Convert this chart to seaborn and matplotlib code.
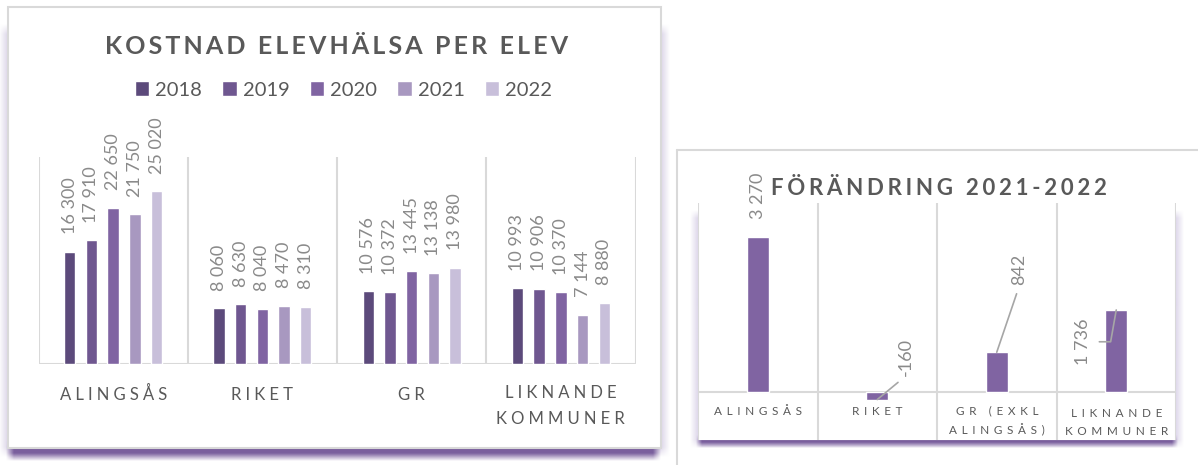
import numpy as np
import pandas as pd
import matplotlib
matplotlib.use("Agg")
import matplotlib.pyplot as plt
import matplotlib.transforms as mtransforms
from matplotlib.patches import Rectangle
import seaborn as sns

# ---- data -------------------------------------------------------------
regions = ["ALINGSÅS", "RIKET", "GR", "LIKNANDE\nKOMMUNER"]
years = ["2018", "2019", "2020", "2021", "2022"]
cost_2018 = [16300, 8060, 10576, 10993]
cost_2019 = [17910, 8630, 10372, 10906]
cost_2020 = [22650, 8040, 13445, 10370]
cost_2021 = [21750, 8470, 13138, 7144]
cost_2022 = [25020, 8310, 13980, 8880]

change_regions = ["ALINGSÅS", "RIKET", "GR (EXKL\nALINGSÅS)", "LIKNANDE\nKOMMUNER"]
change_2021_2022 = [3270, -160, 842, 1736]

year_colors = ["#5c4a7b", "#6f5790", "#8064a2", "#a898c0", "#c8bfda"]
change_color = "#8064a2"

# ---- style ------------------------------------------------------------
sns.set_style("white")
plt.rcParams["font.family"] = ["Lato", "DejaVu Sans"]
TITLE_C = "#595959"
LABEL_C = "#595959"
VALUE_C = "#8a8a8a"
GRID_C = "#d9d9d9"

W, H = 1198, 465
fig = plt.figure(figsize=(W / 100, H / 100), dpi=100)
fig.patch.set_facecolor("white")
renderer = fig.canvas.get_renderer()

# candidate letter-spacing strings, roughly from narrow to wide
SEPS = ["", "\u200a", "\u2009", "\u2009\u200a", "\u2006", "\u2006\u200a",
        "\u2005", "\u2005\u200a", "\u2004", "\u2004\u200a", "\u2004\u2009",
        "\u2004\u2006", "\u2004\u2005"]


def fx(px):
    return px / W


def fy(py):
    return 1 - py / H


def spaced(text, sep):
    return "\n".join(sep.join(line) for line in text.split("\n"))


def pick_sep(artist, text, target_px):
    """Choose the letter-spacing string that brings a text closest to a width."""
    best = None
    for sep in SEPS:
        artist.set_text(spaced(text, sep))
        w = artist.get_window_extent(renderer).width
        if best is None or abs(w - target_px) < best[0]:
            best = (abs(w - target_px), sep)
    artist.set_text(spaced(text, best[1]))
    return best[1]


def sv(v):
    return f"{v:,.0f}".replace(",", " ")


# ---- background cards and soft shadows ------------------------------
bg = fig.add_axes([0, 0, 1, 1], zorder=-5)
bg.axis("off")


def soft_rect(x0, x1, y0, y1, fade, color, peak):
    rgb = matplotlib.colors.to_rgb(color)
    xs = np.arange(x0 - fade, x1 + fade) + 0.5
    ys = np.arange(y0 - fade, y1 + fade) + 0.5
    ax_ = np.clip(np.minimum(xs - (x0 - fade), (x1 + fade) - xs) / (2 * fade), 0, 1)
    ay_ = np.clip(np.minimum(ys - (y0 - fade), (y1 + fade) - ys) / (2 * fade), 0, 1)
    a = peak * np.outer(ay_, ax_)
    img = np.zeros((len(ys), len(xs), 4))
    img[..., :3] = rgb
    img[..., 3] = a
    bg.imshow(img, extent=(xs[0] - 0.5, xs[-1] + 0.5, ys[-1] + 0.5, ys[0] - 0.5),
              interpolation="bilinear", aspect="auto", zorder=1)


# left card
soft_rect(4, 665, 30, 452, 5, "#b9acd2", 0.55)
soft_rect(10, 657, 445, 457, 4, "#7a5f9d", 1.0)
bg.add_patch(Rectangle((8, 7), 653, 441, facecolor="white", edgecolor=GRID_C,
                       lw=1.5, zorder=2))

# right card
bg.plot([677, 677], [150, 465], color=GRID_C, lw=1.5, zorder=2)
bg.plot([677, 1198], [150, 150], color=GRID_C, lw=1.5, zorder=2)
soft_rect(694, 1180, 215, 444, 4, "#c3b7da", 0.55)
soft_rect(699, 1175, 438, 445, 3, "#7a5f9d", 1.0)
bg.add_patch(Rectangle((698, 203), 478, 237, facecolor="white", edgecolor="none", zorder=2))
bg.set_xlim(0, W)
bg.set_ylim(H, 0)

# ---- left chart: cost per pupil --------------------------------------
L_X0, L_X1, L_TOP, L_BASE = 38.5, 635.5, 157, 364
axL = fig.add_axes([fx(L_X0), fy(L_BASE), fx(L_X1 - L_X0), (L_BASE - L_TOP) / H])
axL.patch.set_alpha(0)

df = pd.DataFrame({
    "region": regions * len(years),
    "year": np.repeat(years, len(regions)),
    "cost": cost_2018 + cost_2019 + cost_2020 + cost_2021 + cost_2022,
})
sns.barplot(data=df, x="region", y="cost", hue="year", hue_order=years,
            palette=year_colors, saturation=1, width=0.728, gap=0.48,
            errorbar=None, ax=axL, legend=True)
axL.set_ylim(0, 30000)
axL.set_xlim(-0.5, len(regions) - 0.5)
for cont, vals in zip(axL.containers,
                      [cost_2018, cost_2019, cost_2020, cost_2021, cost_2022]):
    axL.bar_label(cont, labels=[sv(v) for v in vals], rotation=90, padding=12.5,
                  color=VALUE_C, fontsize=13)

for b in np.arange(-0.5, len(regions), 1.0):
    axL.axvline(b, color=GRID_C, lw=1.5, zorder=0)
axL.axhline(0, color=GRID_C, lw=1.5, zorder=0)
for s in axL.spines.values():
    s.set_visible(False)
axL.set_xticks([])
axL.set_yticks([])
axL.set_xlabel("")
axL.set_ylabel("")

handles, labels = axL.get_legend_handles_labels()
axL.get_legend().remove()
fig.legend(handles, labels, loc="center", bbox_to_anchor=(fx(343.5), fy(90)),
           ncol=5, frameon=False, fontsize=14.5, handlelength=0.72, handleheight=0.72,
           handletextpad=0.3, columnspacing=1.0, labelcolor=TITLE_C,
           borderpad=0, borderaxespad=0)

# category labels (baseline of the last line is given)
tL = mtransforms.blended_transform_factory(axL.transData, fig.transFigure)
L_PITCH = 24
probe = fig.text(0, 0, "", fontsize=12)
sepL = pick_sep(probe, regions[0], 108)
probe.remove()
for i, r in enumerate(regions):
    n = r.count("\n")
    axL.text(i, fy(400 + n * L_PITCH), spaced(r, sepL), transform=tL, ha="center",
             va="baseline", fontsize=12, color=LABEL_C, linespacing=1.75,
             multialignment="center")

tl = fig.text(fx(336.5), fy(54.5), "", ha="center", va="baseline", fontsize=18,
              fontweight="bold", color=TITLE_C)
pick_sep(tl, "KOSTNAD ELEVHÄLSA PER ELEV", 463)

# ---- right chart: change 2021-2022 -----------------------------------
R_X0, R_X1, R_TOP, R_BASE, R_BOT = 698, 1176, 203, 392, 440
axR = fig.add_axes([fx(R_X0), fy(R_BOT), fx(R_X1 - R_X0), (R_BOT - R_TOP) / H])
axR.patch.set_alpha(0)
sns.barplot(x=change_regions, y=change_2021_2022, color=change_color, saturation=1,
            width=0.18, errorbar=None, ax=axR)
r_max = 4000
axR.set_ylim(-r_max * (R_BOT - R_BASE) / (R_BASE - R_TOP), r_max)
axR.set_xlim(-0.5, len(change_regions) - 0.5)
for b in np.arange(-0.5, len(change_regions), 1.0):
    axR.axvline(b, color=GRID_C, lw=1.5, zorder=0)
axR.axhline(0, color=GRID_C, lw=1.5, zorder=0)
for s in axR.spines.values():
    s.set_visible(False)
axR.set_xticks([])
axR.set_yticks([])

# label placement (pixel offsets from each bar end) and leader lines
label_offsets = [(0, 41.5), (29, 43), (22.75, 82.6), (-33.75, -31.8)]
leaders = [
    None,
    dict(relpos=(0.5, 0.0), connectionstyle="arc3"),
    dict(relpos=(0.5, 0.0), connectionstyle="arc3"),
    dict(relpos=(1.0, 0.5), connectionstyle="angle,angleA=0,angleB=80,rad=0"),
]
for i, (v, off, ld) in enumerate(zip(change_2021_2022, label_offsets, leaders)):
    props = None
    if ld is not None:
        props = dict(arrowstyle="-", color="#a6a6a6", lw=1.2, shrinkA=4, shrinkB=0, **ld)
    axR.annotate(sv(v), xy=(i, v), xytext=off, textcoords="offset pixels",
                 rotation=90, ha="center", va="center", fontsize=13, color=VALUE_C,
                 arrowprops=props, annotation_clip=False)

tR = mtransforms.blended_transform_factory(axR.transData, fig.transFigure)
R_PITCH = 19.5
probe = fig.text(0, 0, "", fontsize=8.5)
sepR = pick_sep(probe, change_regions[0], 87.5)
probe.remove()
for i, r in enumerate(change_regions):
    n = r.count("\n")
    axR.text(i, fy(415 + n * R_PITCH), spaced(r, sepR), transform=tR, ha="center",
             va="baseline", fontsize=8.5, color=LABEL_C, linespacing=1.72,
             multialignment="center")

tr = fig.text(fx(939.4), fy(195), "", ha="center", va="baseline", fontsize=16,
              fontweight="bold", color=TITLE_C)
pick_sep(tr, "FÖRÄNDRING 2021-2022", 333)

fig.savefig("out.png", dpi=100, facecolor="white")
